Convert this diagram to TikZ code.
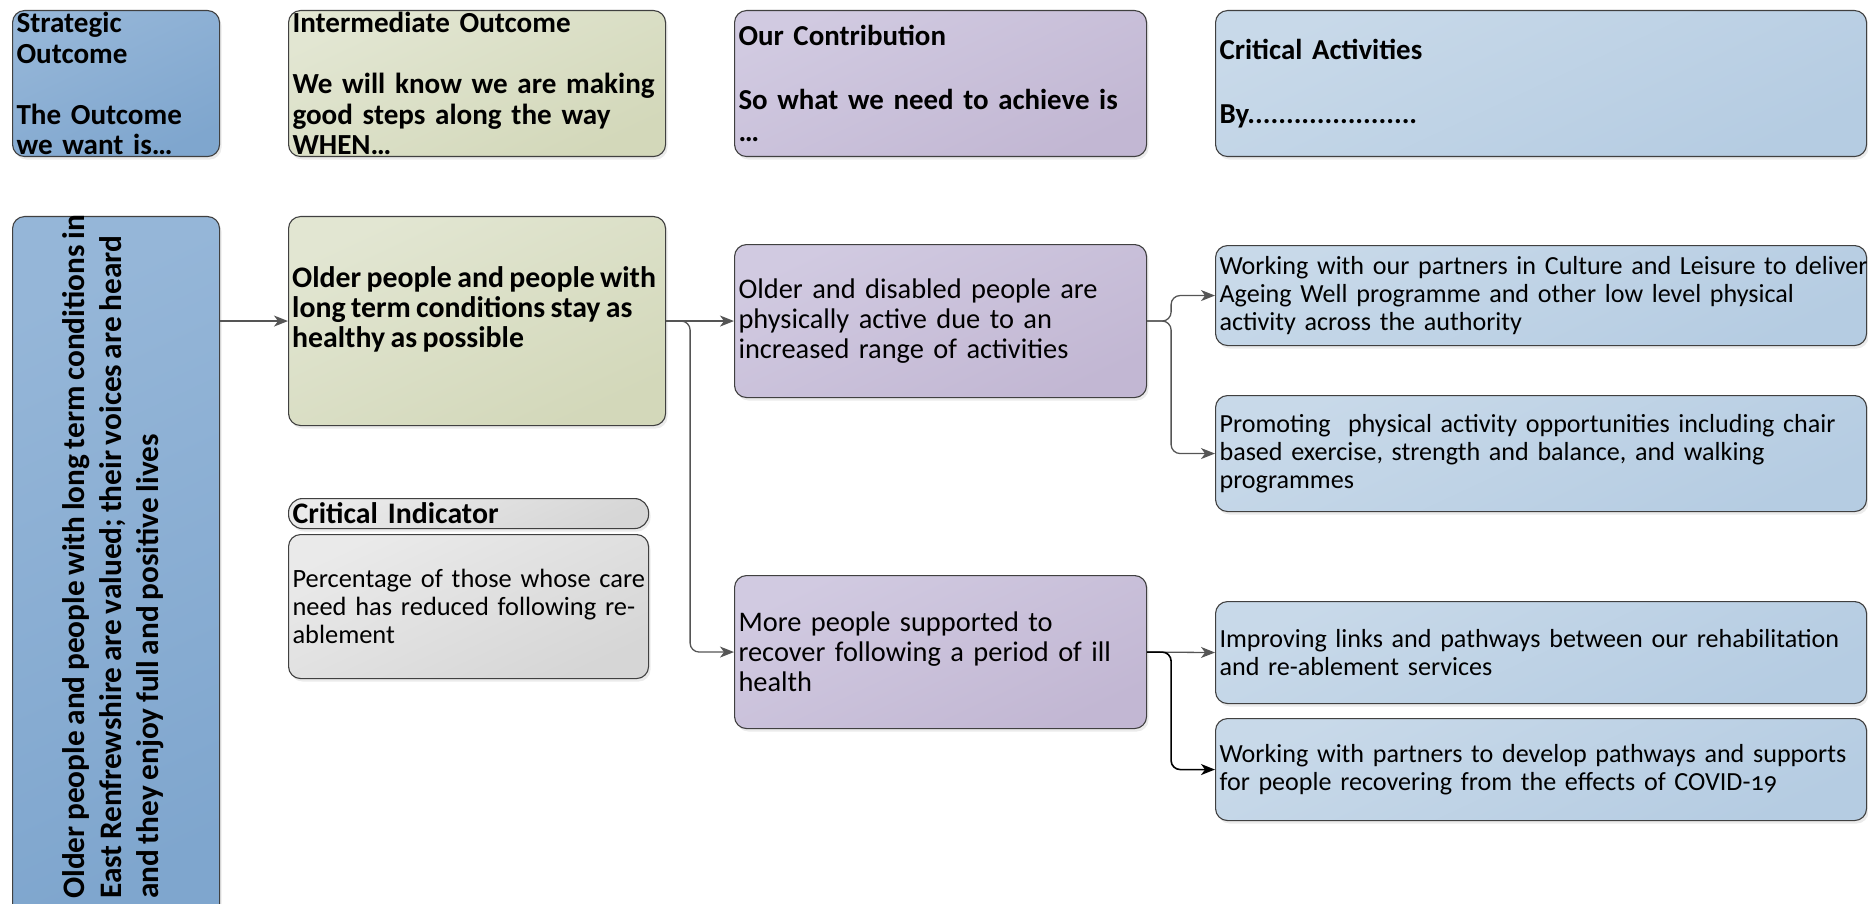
\documentclass[tikz,border=0pt]{standalone}
\usepackage{fontspec}
\setmainfont{Carlito}[Numbers=OldStyle,WordSpace=0.8]
\usetikzlibrary{arrows.meta,shadows}
\definecolor{sblueA}{HTML}{95B6D8}
\definecolor{sblueB}{HTML}{7FA6CE}
\definecolor{greenA}{HTML}{E2E6D2}
\definecolor{greenB}{HTML}{D3D8BA}
\definecolor{purpA}{HTML}{D1CAE1}
\definecolor{purpB}{HTML}{C2B7D3}
\definecolor{actA}{HTML}{C8D9E9}
\definecolor{actB}{HTML}{B5CCE2}
\definecolor{greyA}{HTML}{EAEAEA}
\definecolor{greyB}{HTML}{D6D6D6}
\definecolor{edgec}{HTML}{404040}
\definecolor{wire}{HTML}{555555}
\newcommand\hdfont{\fontsize{29.1}{30.5}\selectfont\bfseries}
\newcommand\hdfontb{\fontsize{28.9}{32}\selectfont\bfseries}
\newcommand\bigbold{\fontsize{31.3}{37}\selectfont\bfseries}
\newcommand\midbold{\fontsize{29.8}{30}\selectfont\bfseries}
\newcommand\contfont{\fontsize{28.4}{30}\selectfont}
\newcommand\actfont{\fontsize{26.1}{28}\selectfont}
\newcommand\cifont{\fontsize{26.4}{28}\selectfont}
\newcommand\myl[1]{\mbox{#1}}
\tikzset{
  box/.style={draw=edgec, line width=1.1pt, rounded corners=12pt, anchor=north west,
    inner xsep=4pt, inner ysep=0pt, align=left, text=black,
    drop shadow={shadow xshift=2pt, shadow yshift=-3pt, opacity=0.16}},
  sfill/.style={top color=sblueA, bottom color=sblueB, shading angle=25},
  gfill/.style={top color=greenA, bottom color=greenB, shading angle=25},
  pfill/.style={top color=purpA, bottom color=purpB, shading angle=25},
  afill/.style={top color=actA, bottom color=actB, shading angle=25},
  cfill/.style={top color=greyA, bottom color=greyB, shading angle=25},
  conn/.style={draw=wire, line width=1.3pt, rounded corners=9pt,
    -{Stealth[length=14pt,width=11pt,inset=4pt]}},
}
\begin{document}
\begin{tikzpicture}[x=1pt,y=-1pt]
\useasboundingbox (0,0) rectangle (1868,904);
% headers
\node[box, sfill, minimum width=207pt, minimum height=146pt, text width=199pt, font=\hdfont] (Sh) at (12,10)
  {Strategic\\Outcome\\~\\The Outcome\\we want is…};
\node[box, gfill, minimum width=377pt, minimum height=146pt, text width=369pt, font=\hdfont] (Ih) at (288,10)
  {Intermediate Outcome\\~\\\myl{We will know we are making}\\good steps along the way\\WHEN…};
\node[box, pfill, minimum width=412pt, minimum height=146pt, text width=404pt, font=\hdfontb] (Ch) at (734,10)
  {Our Contribution\\~\\So what we need to achieve is\\…};
\node[box, afill, minimum width=651pt, minimum height=146pt, text width=643pt, font=\hdfontb] (Ah) at (1215,10)
  {Critical Activities\\~\\By......................};
% strategic outcome
\node[box, sfill, minimum width=207pt, minimum height=720pt] (S) at (12,216) {};
\node[rotate=90, anchor=west, align=left, inner sep=0pt, font=\bigbold] (Stext) at (113,899)
  {Older people and people with long term conditions in\\East Renfrewshire are valued; their voices are heard\\and they enjoy full and positive lives};
% intermediate outcome
\node[box, gfill, minimum width=377pt, minimum height=209pt] (I) at (288,216) {};
\node[anchor=north west, align=left, inner sep=0pt, font=\midbold] (Itext) at (292,266)
  {\myl{Older people and people with}\\long term conditions stay as\\healthy as possible};
% critical indicator
\node[box, cfill, rounded corners=14pt, minimum width=360pt, minimum height=30pt, text width=352pt, font=\midbold] (CIh) at (288,498)
  {Critical Indicator};
\node[box, cfill, minimum width=360pt, minimum height=144pt, text width=352pt, font=\cifont] (CIb) at (288,534)
  {\myl{Percentage of those whose care}\\need has reduced following re-\\ablement};
% contributions
\node[box, pfill, minimum width=412pt, minimum height=153pt, text width=404pt, font=\contfont] (C1) at (734,244)
  {Older and disabled people are\\physically active due to an\\increased range of activities};
\node[box, pfill, minimum width=412pt, minimum height=153pt, text width=404pt, font=\contfont] (C2) at (734,575)
  {More people supported to\\recover following a period of ill\\health};
% activities
\node[box, afill, minimum width=651pt, minimum height=100pt, text width=643pt, font=\actfont] (A1) at (1215,245)
  {\myl{Working with our partners in Culture and Leisure to deliver}\\\myl{Ageing Well programme and other low level physical}\\activity across the authority};
\node[box, afill, minimum width=651pt, minimum height=116pt, text width=643pt, font=\actfont] (A2) at (1215,395)
  {\myl{Promoting\ \ physical activity opportunities including chair}\\\myl{based exercise, strength and balance, and walking}\\programmes};
\node[box, afill, minimum width=651pt, minimum height=102pt, text width=643pt, font=\actfont] (A3) at (1215,601)
  {\myl{Improving links and pathways between our rehabilitation}\\and re-ablement services};
\node[box, afill, minimum width=651pt, minimum height=102pt, text width=643pt, font=\actfont] (A4) at (1215,718)
  {\myl{Working with partners to develop pathways and supports}\\\myl{for people recovering from the effects of COVID-19}};
% connectors
\draw[conn] (S.east |- I.west) -- (I.west);
\draw[conn] (I.east) -- (C1.west);
\draw[conn] (I.east) -- ++(24,0) |- (C2.west);
\draw[conn] (C1.east) -- ++(24,0) |- (A1.west);
\draw[conn] (C1.east) -- ++(24,0) |- (A2.west);
\draw[conn] (C2.east) -- (A3.west);
\draw[conn, draw=black, line width=1.6pt] (C2.east) -- ++(24,0) |- (A4.west);
\end{tikzpicture}
\end{document}
